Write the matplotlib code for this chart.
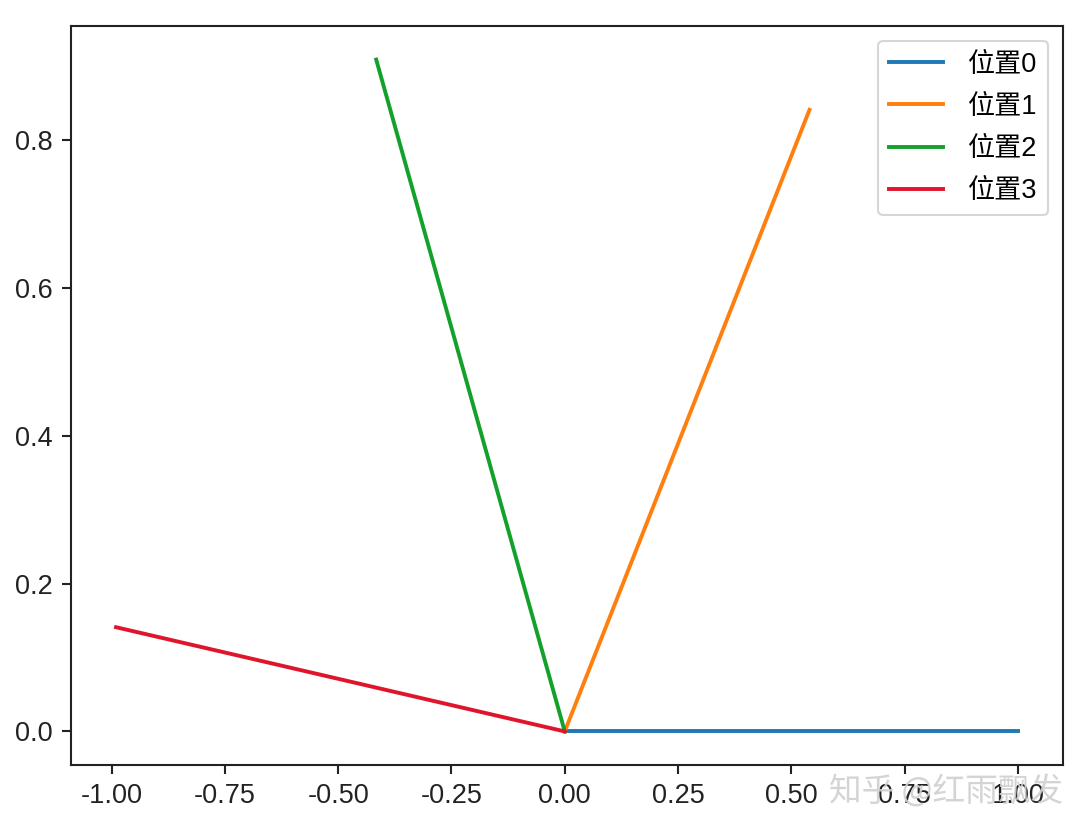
import matplotlib
matplotlib.use("Agg")
import matplotlib.pyplot as plt

labels = ["位置0", "位置1", "位置2", "位置3"]
xs = [[0.0, 1.0], [0.0, 0.540], [0.0, -0.416], [0.0, -0.990]]
ys = [[0.0, 0.0], [0.0, 0.841], [0.0, 0.909], [0.0, 0.141]]
colors = ["#1f77b4", "#ff7f0e", "#13a02b", "#e0152b"]

plt.rcParams['font.family'] = ['Liberation Sans', 'Noto Sans CJK SC', 'DejaVu Sans']
plt.rcParams['axes.unicode_minus'] = False
plt.rcParams['font.size'] = 19.5

fig = plt.figure(figsize=(10.9, 8.36), dpi=100)
ax = fig.add_axes([0.0651, 0.0849, 0.9102, 0.8840])

for x, y, c, lab in zip(xs, ys, colors, labels):
    ax.plot(x, y, color=c, linewidth=2.8, label=lab)

for s in ax.spines.values():
    s.set_linewidth(1.5)
    s.set_color("#222222")
ax.tick_params(length=6.6, width=1.5, pad=6.6, labelsize=19.5, colors="#222222")

leg = ax.legend(loc="upper right", fontsize=19.5, framealpha=0.8, handlelength=2.0,
                labelspacing=0.6, handletextpad=0.9, borderaxespad=0.55)
leg.get_frame().set_linewidth(1.5)

fig.text(0.975, 0.053, "知乎 @红雨飘发", ha="right", va="center", fontsize=23.5,
         color="#d0d0d0", alpha=0.9, family=['Noto Sans CJK SC', 'DejaVu Sans'])

fig.savefig("out.png", dpi=100)
